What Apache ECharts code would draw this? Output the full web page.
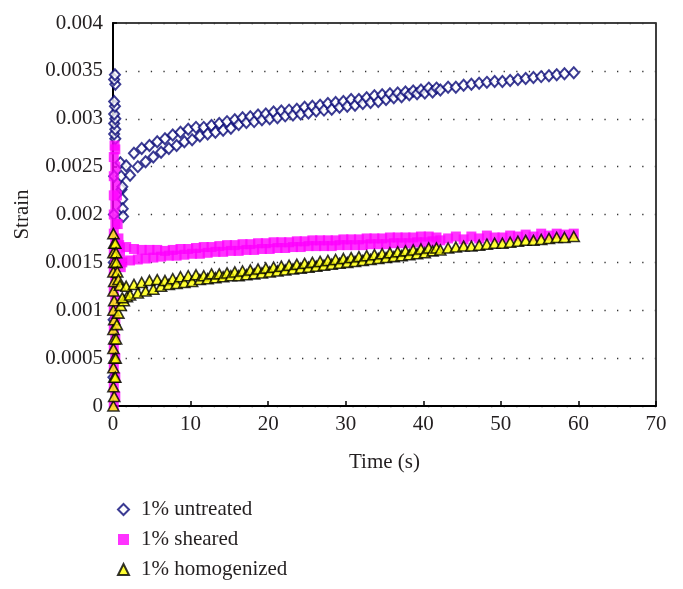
<!DOCTYPE html>
<html>
<head>
<meta charset="utf-8">
<script src="https://cdn.jsdelivr.net/npm/echarts@6/dist/echarts.min.js"></script>
<style>
html,body{margin:0;padding:0;background:#fff;}
#chart{width:683px;height:589px;}
</style>
</head>
<body>
<div id="chart"></div>
<script>
const seriesNames = ['1% untreated', '1% sheared', '1% homogenized'];
const xTicks = [0, 10, 20, 30, 40, 50, 60, 70];
const yTicks = [0, 0.0005, 0.001, 0.0015, 0.002, 0.0025, 0.003, 0.0035, 0.004];

// creep-phase sampling times (s)
const creepTime = [
  1.2,1.7,2.2,2.7,3.2,3.7,4.2,4.7,5.2,5.7,
  6.2,6.7,7.2,7.7,8.2,8.7,9.2,9.7,10.2,10.7,
  11.2,11.7,12.2,12.7,13.2,13.7,14.2,14.7,15.2,15.7,
  16.2,16.7,17.2,17.7,18.2,18.7,19.2,19.7,20.2,20.7,
  21.2,21.7,22.2,22.7,23.2,23.7,24.2,24.7,25.2,25.7,
  26.2,26.7,27.2,27.7,28.2,28.7,29.2,29.7,30.2,30.7,
  31.2,31.7,32.2,32.7,33.2,33.7,34.2,34.7,35.2,35.7,
  36.2,36.7,37.2,37.7,38.2,38.7,39.2,39.7,40.2,40.7,
  41.2,41.7,42.2,43.2,44.2,45.2,46.2,47.2,48.2,49.2,
  50.2,51.2,52.2,53.2,54.2,55.2,56.2,57.2,58.2,59.4
];

const untreatedCreep = [
  0.00229,0.00251,0.00241,0.00264,0.00250,0.00269,0.00255,0.00272,0.00260,0.00276,
  0.00265,0.00279,0.00269,0.00283,0.00272,0.00286,0.00276,0.00289,0.00278,0.00291,
  0.00282,0.00291,0.00284,0.00293,0.00286,0.00295,0.00288,0.00297,0.00290,0.00299,
  0.00294,0.00301,0.00296,0.00302,0.00297,0.00304,0.00299,0.00305,0.00300,0.00307,
  0.00301,0.00308,0.00303,0.00309,0.00304,0.00310,0.00305,0.00312,0.00306,0.00313,
  0.00308,0.00314,0.00309,0.00316,0.00310,0.00317,0.00312,0.00318,0.00313,0.00320,
  0.00314,0.00320,0.00316,0.00322,0.00317,0.00324,0.00318,0.00325,0.00320,0.00326,
  0.00322,0.00327,0.00323,0.00328,0.00325,0.00329,0.00326,0.00330,0.00327,0.00332,
  0.00328,0.00332,0.00330,0.00333,0.00333,0.00335,0.00336,0.00337,0.00338,0.00339,
  0.00339,0.00340,0.00341,0.00342,0.00343,0.00344,0.00345,0.00346,0.00347,0.00348
];

const shearedCreep = [
  0.00150,0.00166,0.00152,0.00164,0.00153,0.00163,0.00154,0.00163,0.00155,0.00163,
  0.00156,0.00162,0.00157,0.00163,0.00157,0.00164,0.00158,0.00164,0.00159,0.00165,
  0.00159,0.00166,0.00160,0.00166,0.00161,0.00167,0.00161,0.00168,0.00162,0.00168,
  0.00162,0.00169,0.00163,0.00169,0.00163,0.00170,0.00164,0.00170,0.00164,0.00171,
  0.00165,0.00171,0.00165,0.00171,0.00166,0.00172,0.00166,0.00172,0.00167,0.00173,
  0.00167,0.00173,0.00167,0.00173,0.00167,0.00173,0.00168,0.00174,0.00168,0.00174,
  0.00168,0.00174,0.00168,0.00175,0.00169,0.00175,0.00169,0.00175,0.00169,0.00176,
  0.00170,0.00176,0.00170,0.00176,0.00170,0.00176,0.00171,0.00177,0.00171,0.00177,
  0.00172,0.00176,0.00173,0.00175,0.00177,0.00174,0.00177,0.00175,0.00178,0.00176,
  0.00176,0.00178,0.00177,0.00179,0.00177,0.00180,0.00178,0.00180,0.00179,0.00180
];

const homogenizedCreep = [
  0.00113,0.00125,0.00116,0.00127,0.00118,0.00129,0.00120,0.00131,0.00122,0.00132,
  0.00125,0.00131,0.00127,0.00133,0.00128,0.00135,0.00129,0.00136,0.00130,0.00137,
  0.00132,0.00136,0.00133,0.00138,0.00134,0.00138,0.00135,0.00139,0.00136,0.00140,
  0.00136,0.00141,0.00137,0.00142,0.00138,0.00143,0.00139,0.00144,0.00140,0.00145,
  0.00141,0.00146,0.00142,0.00147,0.00143,0.00148,0.00144,0.00149,0.00145,0.00150,
  0.00146,0.00151,0.00147,0.00152,0.00148,0.00153,0.00149,0.00154,0.00150,0.00155,
  0.00151,0.00156,0.00152,0.00157,0.00153,0.00158,0.00154,0.00159,0.00155,0.00160,
  0.00156,0.00161,0.00157,0.00162,0.00158,0.00163,0.00159,0.00164,0.00160,0.00165,
  0.00162,0.00165,0.00163,0.00165,0.00166,0.00167,0.00167,0.00168,0.00169,0.00170,
  0.00170,0.00171,0.00172,0.00173,0.00173,0.00174,0.00175,0.00176,0.00176,0.00177
];

// loading transient near t = 0: [time, strain]
const untreatedStart = [
  [0.05,0.0003],[0.08,0.0009],[0.1,0.0015],[0.12,0.0020],[0.15,0.0024],
  [0.3,0.00279],[0.15,0.00284],[0.3,0.00289],[0.15,0.00295],[0.3,0.00300],
  [0.15,0.00305],[0.25,0.00313],[0.15,0.00318],[0.3,0.00336],[0.15,0.00341],[0.25,0.00346],
  [0.95,0.00254],[1.05,0.00240],[1.1,0.00226],[1.2,0.00216],[1.25,0.00206],[1.3,0.00198]
];
const shearedStart = [
  [0.1,0],[0.3,0.0001],[0.1,0.0002],[0.3,0.0003],[0.1,0.0004],[0.3,0.0005],[0.1,0.0006],
  [0.3,0.0007],[0.1,0.0008],[0.3,0.0009],[0.1,0.0010],[0.3,0.0011],[0.1,0.0012],[0.3,0.0013],
  [0.1,0.0014],[0.3,0.0015],[0.1,0.0016],[0.3,0.0017],[0.1,0.0018],[0.3,0.0019],[0.1,0.0020],
  [0.3,0.0021],[0.1,0.0022],[0.3,0.0023],[0.1,0.0024],[0.3,0.0025],[0.1,0.0026],[0.3,0.00268],
  [0.2,0.00272],
  [0.5,0.0022],[0.6,0.0019],[0.7,0.00175],[0.8,0.00168],[0.9,0.00155],[1.0,0.00145],[0.9,0.00165]
];
const homogenizedStart = [
  [0.05,0],[0.15,0.0001],[0.05,0.0002],[0.15,0.0003],[0.05,0.0004],[0.15,0.0005],[0.05,0.0006],
  [0.15,0.0007],[0.05,0.0008],[0.15,0.0009],[0.05,0.0010],[0.15,0.0011],[0.05,0.0012],
  [0.15,0.0013],[0.05,0.0014],[0.15,0.0015],[0.05,0.0016],[0.15,0.0017],[0.05,0.0018],
  [0.3,0.0003],[0.35,0.0005],[0.4,0.0007],[0.5,0.00085],[0.7,0.00097],[1.0,0.00105],[1.4,0.0011],[1.8,0.00114],
  [0.3,0.0017],[0.4,0.0016],[0.45,0.0015],[0.55,0.0014],[0.7,0.00132],[0.9,0.00126]
];

function join(start, vals) {
  return start.concat(creepTime.map(function (t, i) { return [t, vals[i]]; }));
}

const FONT = '"Liberation Serif","DejaVu Serif","Times New Roman",serif';
const TXT = '#231f20';

const chart = echarts.init(document.getElementById('chart'), null, {renderer: 'canvas'});
chart.setOption({
  animation: false,
  backgroundColor: '#fff',
  grid: {
    left: 113, right: 27, top: 23, bottom: 183,
    show: true, borderColor: '#000', borderWidth: 1.5,
    containLabel: false, outerBoundsMode: 'none'
  },
  legend: {
    orient: 'vertical',
    left: 112, top: 494,
    itemWidth: 11, itemHeight: 11, itemGap: 9,
    data: seriesNames,
    textStyle: {fontFamily: FONT, fontSize: 21, color: TXT, lineHeight: 21, padding: [0, 0, 0, 7]}
  },
  xAxis: {
    type: 'value', min: xTicks[0], max: xTicks[xTicks.length - 1], interval: 10,
    name: 'Time (s)', nameLocation: 'middle', nameGap: 46,
    nameTextStyle: {fontFamily: FONT, fontSize: 21, color: TXT},
    axisLine: {show: true, onZero: false, lineStyle: {color: '#000', width: 2}},
    axisTick: {show: true, inside: true, length: 5, lineStyle: {color: '#000', width: 1.5}},
    axisLabel: {margin: 8, fontFamily: FONT, fontSize: 21, color: TXT},
    splitLine: {show: false}
  },
  yAxis: {
    type: 'value', min: yTicks[0], max: yTicks[yTicks.length - 1], interval: 0.0005,
    name: 'Strain', nameLocation: 'middle', nameGap: 80, nameRotate: 90,
    nameTextStyle: {fontFamily: FONT, fontSize: 21, color: TXT},
    axisLine: {show: true, lineStyle: {color: '#000', width: 2}},
    axisTick: {show: true, inside: true, length: 4, lineStyle: {color: '#000', width: 1.5}},
    axisLabel: {
      margin: 10, fontFamily: FONT, fontSize: 21, color: TXT,
      formatter: function (v) { return v === 0 ? '0' : String(parseFloat(v.toFixed(4))); }
    },
    splitLine: {show: true, lineStyle: {color: '#333', width: 1.3, type: [1.3, 11.3]}}
  },
  series: [
    {
      name: seriesNames[0], type: 'scatter', symbol: 'diamond', symbolSize: [10, 11], clip: false,
      itemStyle: {color: '#ffffff', borderColor: '#0a0a78', borderWidth: 2},
      data: join(untreatedStart, untreatedCreep), z: 2
    },
    {
      name: seriesNames[1], type: 'scatter', symbol: 'rect', symbolSize: 10, clip: false,
      itemStyle: {color: '#ff00ff', borderWidth: 0},
      data: join(shearedStart, shearedCreep), z: 3
    },
    {
      name: seriesNames[2], type: 'scatter', symbol: 'triangle', symbolSize: [11, 10], clip: false,
      itemStyle: {color: '#ffff00', borderColor: '#000', borderWidth: 1.6},
      data: join(homogenizedStart, homogenizedCreep), z: 4
    }
  ]
});
</script>
</body>
</html>
